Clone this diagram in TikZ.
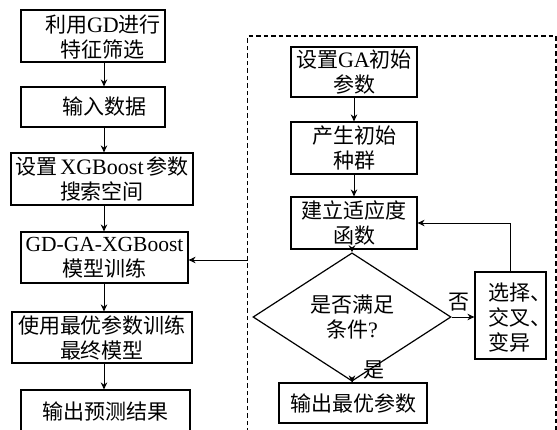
\documentclass[tikz,border=0pt]{standalone}
\usepackage{fontspec}
\setmainfont{Noto Sans CJK SC}
\newfontfamily\lat[Scale=1.05]{Liberation Serif}
\usetikzlibrary{shapes.geometric,arrows.meta,calc}

\begin{document}
\begin{tikzpicture}[x=1pt,y=-1pt,
  txt/.style={font=\fontsize{21}{25}\selectfont,align=center,inner sep=0pt},
  box/.style={txt,draw,line width=1.2pt},
  arr/.style={-{Stealth[length=7pt,width=6.5pt]},line width=0.9pt},
  frame/.style={line width=1.1pt,dash pattern=on 4.5pt off 3pt}]
\useasboundingbox (0,0) rectangle (557,429);
\clip (0,0) rectangle (557,429);

% main training pipeline
\node[box,minimum width=144pt,minimum height=52pt] (b1) at (93,36) {};
\node[txt] (t1) at (103,37) {利用{\lat GD}进行\\特征筛选};
\node[box,minimum width=144pt,minimum height=40pt] (b2) at (93,107) {};
\node[txt] (t2) at (104,107) {输入数据};
\node[box,minimum width=182pt,minimum height=52pt] (b3) at (102,179) {设置\hspace{3pt}{\lat XGBoost}\hspace{3pt}参数\\搜索空间};
\node[box,minimum width=167pt,minimum height=51pt] (b4) at (104.5,257.5) {{\fontsize{20.5}{25}\selectfont\lat GD-GA-XGBoost}\\模型训练};
\node[box,minimum width=180pt,minimum height=51pt] (b5) at (102,337.5) {使用最优参数训练\\最终模型};
\node[box,minimum width=169pt,minimum height=42pt] (b6) at (105.5,411) {输出预测结果};

\coordinate (sp) at (104,0);
\draw[arr] (b1.south -| sp) -- (b2.north -| sp);
\draw[arr] (b2.south -| sp) -- (b3.north -| sp);
\draw[arr] (b3.south -| sp) -- (b4.north -| sp);
\draw[arr] (b4.south -| sp) -- (b5.north -| sp);
\draw[arr] (b5.south -| sp) -- (b6.north -| sp);

% genetic algorithm search frame
\draw[frame] (247.5,440) -- (247.5,36) -- (556,36) -- (556,440);
\coordinate (fl) at (247.5,260);
\draw[arr] (fl) -- (b4.east |- fl);

\node[box,minimum width=126pt,minimum height=50pt] (g1) at (354,72) {设置{\lat GA}初始\\参数};
\node[box,minimum width=126pt,minimum height=52pt] (g2) at (354,148) {产生初始\\种群};
\node[box,minimum width=126pt,minimum height=52pt] (g3) at (354,223) {建立适应度\\函数};
\node[txt,draw,line width=1.2pt,shape=diamond,
      minimum width=198pt,minimum height=86pt] (dia) at (352,317) {是否满足\\条件{\lat ?}};
\node[box,minimum width=71pt,minimum height=87pt] (sel) at (510.5,315.5) {};
\node[txt,align=left] (ts) at (520,318) {选择、\\交叉、\\变异};
\node[box,minimum width=148pt,minimum height=40pt] (out) at (353,403) {输出最优参数};

\draw[arr] (g1) -- (g2);
\draw[arr] (g2) -- (g3);
\draw[arr] (g3.south -| dia) -- (dia.north);
\draw[arr] (dia.south) -- (out.north -| dia);
\draw[arr] (dia.east) -- (sel.west |- dia.east);
\draw[arr] (sel.north) |- (g3.east);

\node[txt] (no) at (459,302) {否};
\node[txt] (yes) at (374,370) {是};
\end{tikzpicture}
\end{document}
